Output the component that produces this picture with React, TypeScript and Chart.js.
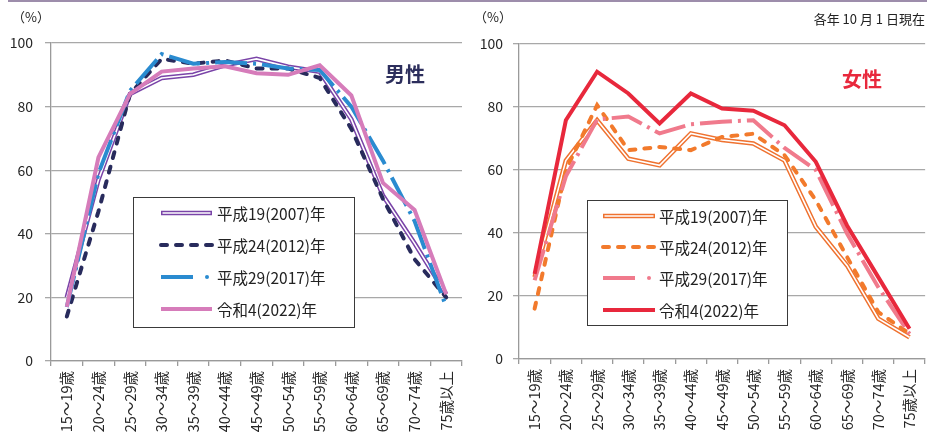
import React, { useEffect, useRef } from "react";
import { Chart, registerables } from "chart.js";
Chart.register(...registerables);

const FONT = '"Noto Sans CJK JP", "Noto Sans", sans-serif';

const ageGroups = [
  "15～19歳", "20～24歳", "25～29歳", "30～34歳", "35～39歳", "40～44歳", "45～49歳",
  "50～54歳", "55～59歳", "60～64歳", "65～69歳", "70～74歳", "75歳以上",
];
const yearLabels = ["平成19(2007)年", "平成24(2012)年", "平成29(2017)年", "令和4(2022)年"];
const yTickValues = [0, 20, 40, 60, 80, 100];

const male2007 = [20, 57, 84, 89, 90, 93, 95, 92.5, 91, 76, 52, 37, 21];
const male2012 = [14, 47, 84, 95, 93.5, 94.5, 92, 92, 89, 73, 51, 32, 20];
const male2017 = [17, 59, 85, 96.5, 93.5, 94, 93.5, 92, 91.5, 80, 63, 44, 17];
const male2022 = [17, 64, 84, 91, 92, 92.7, 90.5, 90, 93, 83.5, 56, 47.5, 21];

const female2007 = [26, 63, 75.8, 63.6, 61.5, 71.6, 69.5, 68.4, 63, 42, 29.7, 12.8, 6.9];
const female2012 = [16, 60, 80.6, 66.3, 67.3, 66.3, 70.5, 71.5, 64.7, 50.4, 32.4, 14.9, 8];
const female2017 = [25, 58, 76, 77, 71.6, 74.5, 75.3, 75.8, 67, 60, 39.8, 22.8, 8];
const female2022 = [27, 75.8, 91.2, 84.3, 74.8, 84.3, 79.5, 78.8, 74.2, 62.6, 42.4, 26, 9.6];

function drawBoxLegend(chart: any, opts: any, items: any[]) {
  const ctx = chart.ctx;
  const [x1, y1, x2, y2] = opts.box;
  ctx.save();
  ctx.fillStyle = "#ffffff";
  ctx.fillRect(x1, y1, x2 - x1, y2 - y1);
  ctx.strokeStyle = "#3a3a3a";
  ctx.lineWidth = 1;
  ctx.strokeRect(x1 + 0.5, y1 + 0.5, x2 - x1 - 1, y2 - y1 - 1);
  items.forEach((d: any, i: number) => {
    const y = opts.rows[i];
    ctx.beginPath();
    ctx.setLineDash(d.legendDash || d.borderDash || []);
    ctx.lineCap = d.borderCapStyle || "butt";
    ctx.lineWidth = d.borderWidth;
    ctx.strokeStyle = d.borderColor;
    ctx.moveTo(opts.sample[0], y);
    ctx.lineTo(opts.sample[1], y);
    ctx.stroke();
    if (d.legendDot) {
      ctx.beginPath();
      ctx.setLineDash([]);
      ctx.fillStyle = d.borderColor;
      ctx.arc(d.legendDot + opts.sample[0], y, 2, 0, Math.PI * 2);
      ctx.fill();
    }
    if (d.doubleLine) {
      ctx.beginPath();
      ctx.setLineDash([]);
      ctx.lineWidth = 1.6;
      ctx.strokeStyle = "#ffffff";
      ctx.moveTo(opts.sample[0] + 1.5, y);
      ctx.lineTo(opts.sample[1] - 1.5, y);
      ctx.stroke();
    }
    ctx.setLineDash([]);
    ctx.fillStyle = "#222222";
    ctx.font = `15.5px ${FONT}`;
    ctx.textBaseline = "middle";
    ctx.textAlign = "left";
    ctx.fillText(d.legendText, opts.textX, y + 1);
  });
  ctx.restore();
}

type Side = {
  series: number[][];
  colors: string[];
  pad: { top: number; right: number };
  yWidth: number;
  xHeight: number;
  tickPadding: number;
  legend: any;
};

function makeDatasets(s: Side) {
  const [c07, c12, c17, c22] = s.colors;
  const base = { pointRadius: 0, pointHoverRadius: 0, tension: 0, fill: false };
  return [
    { ...base, data: s.series[3], borderColor: c22, borderWidth: 4, order: 1, legendText: yearLabels[3] },
    {
      ...base, data: s.series[2], borderColor: c17, borderWidth: 4, borderDash: [32, 6, 3, 6], order: 2,
      legendText: yearLabels[2], legendDash: [32, 60], legendDot: 46,
    },
    {
      ...base, data: s.series[1], borderColor: c12, borderWidth: 4, borderDash: [6, 9], borderCapStyle: "round", order: 3,
      legendText: yearLabels[1],
    },
    { ...base, data: s.series[0], borderColor: "#ffffff", borderWidth: 1.6, order: 4 },
    { ...base, data: s.series[0], borderColor: c07, borderWidth: 4.6, order: 5, legendText: yearLabels[0], doubleLine: true },
  ];
}

function ChartPanel({ side, width, left }: { side: Side; width: number; left: number }) {
  const ref = useRef<HTMLCanvasElement | null>(null);
  useEffect(() => {
    if (!ref.current) return;
    const datasets = makeDatasets(side);
    const legendItems = [datasets[4], datasets[2], datasets[1], datasets[0]];
    const chart = new Chart(ref.current, {
      type: "line",
      data: { labels: ageGroups, datasets: datasets as any },
      options: {
        responsive: false,
        animation: false,
        devicePixelRatio: 1,
        layout: { padding: { top: side.pad.top, right: side.pad.right, left: 0, bottom: 0 } },
        plugins: {
          legend: { display: false },
          tooltip: { enabled: false },
        },
        scales: {
          x: {
            offset: true,
            grid: { display: true, offset: true, drawOnChartArea: false, drawTicks: true, tickLength: 5, color: "#9a9a9a", lineWidth: 1.3 },
            border: { display: true, color: "#9a9a9a", width: 1.3 },
            ticks: { minRotation: 90, maxRotation: 90, autoSkip: false, padding: 5, color: "#262626", font: { family: FONT, size: 14.5 } },
            afterFit: (sc: any) => { sc.height = side.xHeight; },
          },
          y: {
            min: 0, max: 100,
            afterBuildTicks: (sc: any) => { sc.ticks = yTickValues.map((v) => ({ value: v })); },
            grid: { color: "#a8a8a8", lineWidth: 1.3, tickLength: 6 },
            border: { display: true, color: "#9a9a9a", width: 1.3 },
            ticks: { padding: side.tickPadding, color: "#262626", font: { family: FONT, size: 14 } },
            afterFit: (sc: any) => { sc.width = side.yWidth; },
          },
        },
      },
      plugins: [
        {
          id: "boxLegend",
          afterDraw(c: any) {
            drawBoxLegend(c, side.legend, legendItems);
          },
        },
      ],
    } as any);
    return () => chart.destroy();
  }, []);
  return (
    <canvas
      ref={ref}
      width={width}
      height={441}
      style={{ position: "absolute", left, top: 0, width, height: 441 }}
    />
  );
}

const maleSide: Side = {
  series: [male2007, male2012, male2017, male2022],
  colors: ["#7a44a8", "#282b5c", "#2a8bd0", "#d67cba"],
  pad: { top: 43, right: 8 },
  yWidth: 51,
  xHeight: 80,
  tickPadding: 12,
  legend: { box: [133, 197, 355, 328], rows: [213, 245, 277, 309], sample: [161, 212], textX: 217 },
};

const femaleSide: Side = {
  series: [female2007, female2012, female2017, female2022],
  colors: ["#ef7230", "#f27a2c", "#f07a8c", "#e8283c"],
  pad: { top: 44, right: 2.5 },
  yWidth: 53,
  xHeight: 82,
  tickPadding: 10,
  legend: { box: [121, 200, 322, 326], rows: [216, 247, 278, 310], sample: [137, 189], textX: 193 },
};

export default function App() {
  return (
    <div
      style={{
        position: "fixed", left: 0, top: 0, width: 927, height: 441, overflow: "hidden",
        background: "#ffffff", fontFamily: FONT,
      }}
    >
      <div style={{ position: "absolute", left: 8, top: 0, width: 919, height: 2, background: "#9d8dab" }} />
      <ChartPanel side={maleSide} width={470} left={0} />
      <ChartPanel side={femaleSide} width={466} left={466} />
      <div style={{ position: "absolute", left: 12, top: 9, fontSize: 13, color: "#222", lineHeight: "16px" }}>（%）</div>
      <div style={{ position: "absolute", left: 474, top: 9, fontSize: 13, color: "#222", lineHeight: "16px" }}>（%）</div>
      <div style={{ position: "absolute", right: 2, top: 11, fontSize: 13, color: "#222", lineHeight: "16px", whiteSpace: "pre" }}>
        各年 10 月 1 日現在
      </div>
      <div style={{ position: "absolute", left: 385, top: 62, fontSize: 20, fontWeight: 700, color: "#2c2e5c", lineHeight: "24px" }}>
        男性
      </div>
      <div style={{ position: "absolute", left: 842, top: 67, fontSize: 20, fontWeight: 700, color: "#e8283c", lineHeight: "24px" }}>
        女性
      </div>
    </div>
  );
}
